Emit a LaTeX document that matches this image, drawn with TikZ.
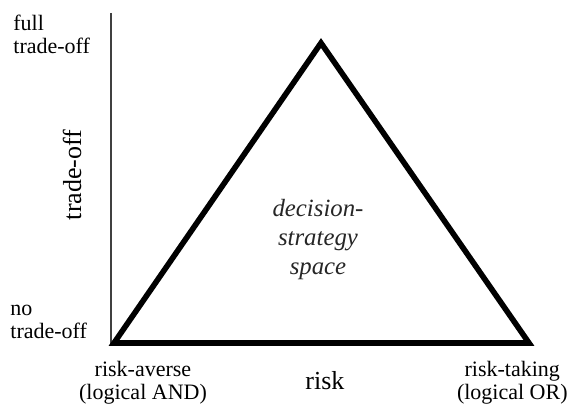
\documentclass[tikz,border=0pt]{standalone}
\usepackage{fontspec}
\setmainfont{Liberation Serif}
\usetikzlibrary{positioning}

\begin{document}
\begin{tikzpicture}[
  x=0.5pt, y=-0.5pt,
  axis/.style={line width=0.9pt, draw=black!75},
  space/.style={line width=2.8pt, line join=miter},
  corner/.style={inner sep=0pt, font=\fontsize{11}{11.5}\selectfont},
  axislabel/.style={inner sep=0pt, font=\fontsize{13}{15}\selectfont},
  inside/.style={inner sep=0pt, align=center, text=black!85, font=\fontsize{12.4}{14.5}\selectfont\itshape}
]
  \useasboundingbox (0,0) rectangle (570,405);
  \coordinate (top) at (111,13);
  \coordinate (origin) at (111,345);
  \coordinate (apex) at (321,43);
  \coordinate (averse) at (114,343);
  \coordinate (taking) at (529,343);
  \draw[axis] (top) -- (origin);
  \draw[space] (averse) -- (apex) -- (taking) -- cycle;
  \node[corner, align=left, anchor=north west] (full) at (13,15) {full\\trade-off};
  \node[corner, align=left, anchor=south west] (none) at (10,339) {no\\trade-off};
  \node[axislabel, rotate=90] (tradeoff) at (72,175) {trade-off};
  \node[inside] (dss) at (318,240) {decision-\\strategy\\space};
  \node[corner, align=center] (ravers) at (143,383) {risk-averse\\(logical AND)};
  \node[axislabel] (risk) at (325,381) {risk};
  \node[corner, align=center, anchor=east] (rtake) at (568,383) {risk-taking\\(logical OR)};
\end{tikzpicture}
\end{document}
